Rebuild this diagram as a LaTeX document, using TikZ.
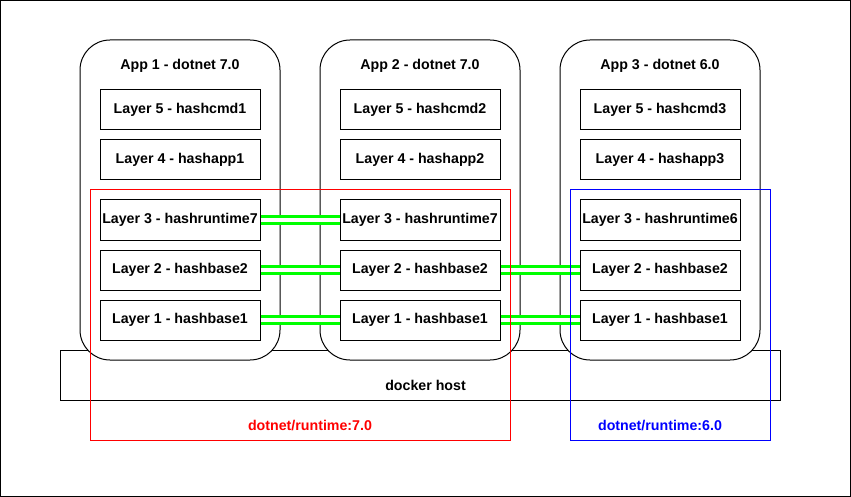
\documentclass[tikz,border=0pt]{standalone}
\usepackage{fontspec}
\setmainfont{Liberation Sans}
\begin{document}
\begin{tikzpicture}[x=1pt,y=-1pt,
  lbl/.style={font=\fontsize{14.2}{16}\selectfont\bfseries, inner sep=0pt},
  layerbox/.style={draw=black, fill=white, line width=1pt, minimum width=160pt, minimum height=40pt, inner sep=0pt, font=\fontsize{14.2}{16}\selectfont\bfseries},
  appbox/.style={draw=black, fill=white, line width=1pt, rounded corners=30pt},
  link/.style={draw=green!100, line width=3pt, double=white, double distance=4pt}
]
\path[use as bounding box] (0,0) rectangle (851,497);
\draw[line width=1pt] (0.5,0.5) rectangle (850.5,496.5);
% docker host
\draw[line width=1pt] (60,350) rectangle (780,400);
\node[lbl] (dh) at (425.5,385) {docker host};
% apps
\foreach \i/\x/\ver in {1/80/7.0, 2/320/7.0, 3/560/6.0}{
  \draw[appbox] (\x,40) rectangle ++(200,320);
  \node[lbl] (t\i) at (\x+100,65.5) {App \i{} - dotnet \ver};
  \node[layerbox] (l5\i) at (\x+100,110) {Layer 5 - hashcmd\i};
  \node[layerbox] (l4\i) at (\x+100,160) {Layer 4 - hashapp\i};
  \node[layerbox] (l2\i) at (\x+100,270) {Layer 2 - hashbase2};
  \node[layerbox] (l1\i) at (\x+100,320) {Layer 1 - hashbase1};
}
\node[layerbox] (l31) at (180,220) {Layer 3 - hashruntime7};
\node[layerbox] (l32) at (420,220) {Layer 3 - hashruntime7};
\node[layerbox] (l33) at (660,220) {Layer 3 - hashruntime6};
% links
\draw[link] (l31.east) -- (l32.west);
\draw[link] (l21.east) -- (l22.west);
\draw[link] (l11.east) -- (l12.west);
\draw[link] (l22.east) -- (l23.west);
\draw[link] (l12.east) -- (l13.west);
% runtime groups
\draw[red, line width=1pt] (90,190) rectangle (510,440);
\node[lbl, text=red] (r7) at (310,425.5) {dotnet/runtime:7.0};
\draw[blue, line width=1pt] (570,190) rectangle (770,440);
\node[lbl, text=blue] (r6) at (660,425.5) {dotnet/runtime:6.0};
\end{tikzpicture}
\end{document}
